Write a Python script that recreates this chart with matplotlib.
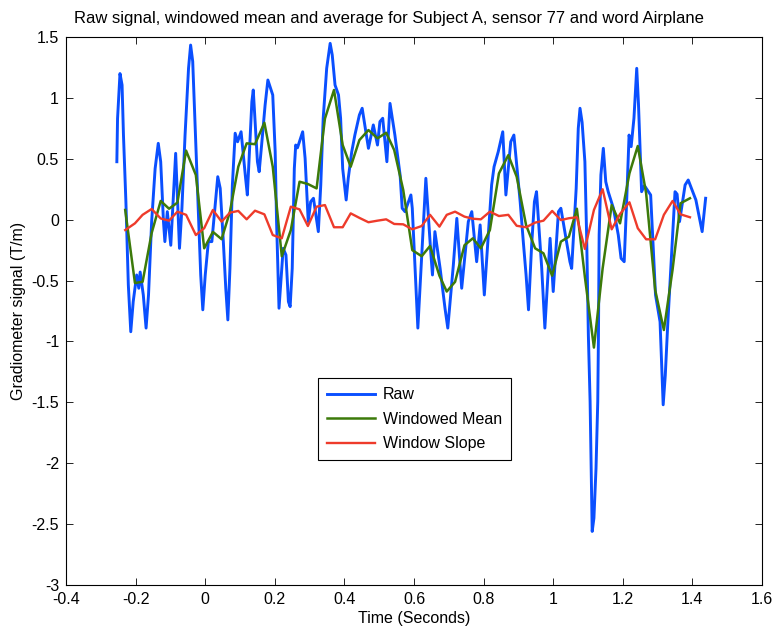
import matplotlib
matplotlib.use("Agg")
import matplotlib.pyplot as plt

plt.rcParams['font.family'] = ['Liberation Sans', 'DejaVu Sans']

raw_t = [-0.254, -0.252, -0.245, -0.239, -0.235, -0.228, -0.221, -0.214, -0.207, -0.197,
         -0.191, -0.187, -0.178, -0.170, -0.163, -0.154, -0.144, -0.135, -0.128, -0.120,
         -0.116, -0.109, -0.099, -0.085, -0.074, -0.067, -0.058, -0.048, -0.042, -0.036,
         -0.028, -0.020, -0.013, -0.007, 0.000, 0.009, 0.019, 0.026, 0.036, 0.043,
         0.052, 0.059, 0.065, 0.071, 0.078, 0.086, 0.093, 0.103, 0.116, 0.121,
         0.134, 0.138, 0.150, 0.155, 0.162, 0.172, 0.180, 0.194, 0.201, 0.205,
         0.212, 0.224, 0.232, 0.239, 0.244, 0.250, 0.256, 0.260, 0.265, 0.280,
         0.287, 0.296, 0.303, 0.311, 0.325, 0.332, 0.339, 0.349, 0.359, 0.365,
         0.373, 0.383, 0.389, 0.395, 0.405, 0.411, 0.421, 0.430, 0.443, 0.451,
         0.469, 0.483, 0.495, 0.502, 0.510, 0.522, 0.531, 0.545, 0.560, 0.566,
         0.574, 0.591, 0.595, 0.603, 0.611, 0.627, 0.634, 0.648, 0.653, 0.660,
         0.675, 0.689, 0.697, 0.713, 0.723, 0.737, 0.756, 0.766, 0.780, 0.790,
         0.802, 0.823, 0.830, 0.842, 0.855, 0.864, 0.871, 0.878, 0.887, 0.905,
         0.914, 0.922, 0.929, 0.938, 0.946, 0.952, 0.967, 0.976, 0.991, 1.000,
         1.015, 1.022, 1.048, 1.053, 1.066, 1.072, 1.077, 1.083, 1.091, 1.096,
         1.101, 1.106, 1.109, 1.112, 1.117, 1.123, 1.128, 1.130, 1.132, 1.137,
         1.144, 1.151, 1.158, 1.173, 1.187, 1.195, 1.204, 1.211, 1.218, 1.224,
         1.232, 1.240, 1.245, 1.254, 1.262, 1.280, 1.294, 1.307, 1.312, 1.316,
         1.322, 1.329, 1.342, 1.350, 1.356, 1.363, 1.379, 1.388, 1.410, 1.428,
         1.438]
raw_y = [0.476, 0.83, 1.20, 1.106, 0.695, 0.148, -0.536, -0.92, -0.673, -0.454,
         -0.563, -0.43, -0.618, -0.89, -0.618, -0.016, 0.42, 0.627, 0.476, -0.016,
         -0.18, 0.066, -0.21, 0.545, -0.235, 0.094, 0.695, 1.243, 1.434, 1.30,
         0.695, 0.094, -0.454, -0.74, -0.454, -0.18, -0.18, 0.04, 0.353, 0.258,
         -0.18, -0.563, -0.823, -0.40, 0.285, 0.71, 0.64, 0.722, 0.34, 0.203,
         0.969, 1.065, 0.476, 0.394, 0.613, 0.94, 1.147, 1.024, 0.558, -0.016,
         -0.727, -0.235, -0.29, -0.673, -0.714, -0.40, 0.42, 0.613, 0.59, 0.722,
         0.504, -0.016, 0.148, 0.176, -0.098, 0.285, 0.833, 1.243, 1.448, 1.352,
         1.106, 1.024, 0.833, 0.42, 0.162, 0.34, 0.558, 0.695, 0.86, 0.915,
         0.586, 0.778, 0.613, 0.805, 0.833, 0.476, 0.955, 0.695, 0.367, 0.094,
         0.066, 0.203, 0.094, -0.40, -0.89, -0.043, 0.34, -0.263, -0.454, -0.098,
         -0.40, -0.727, -0.89, -0.372, 0.011, -0.563, -0.016, 0.066, -0.345, -0.043,
         -0.618, 0.285, 0.435, 0.558, 0.722, 0.203, 0.42, 0.64, 0.695, 0.148,
         -0.18, -0.454, -0.74, -0.208, 0.148, 0.23, -0.40, -0.89, -0.153, -0.59,
         0.066, 0.094, -0.345, -0.40, 0.258, 0.75, 0.915, 0.80, 0.476, -0.126,
         -0.947, -1.494, -2.04, -2.56, -2.45, -2.04, -1.494, -0.947, -0.126, 0.367,
         0.586, 0.312, 0.23, 0.094, -0.126, -0.317, -0.345, 0.148, 0.695, 0.60,
         0.833, 1.243, 0.95, 0.23, 0.28, 0.203, -0.618, -0.838, -1.22, -1.52,
         -1.28, -0.865, -0.18, 0.23, 0.21, -0.016, 0.285, 0.326, 0.162, -0.098,
         0.176]

mean_t = [-0.230, -0.202, -0.180, -0.154, -0.128, -0.104, -0.080, -0.055, -0.027, -0.003,
          0.022, 0.047, 0.071, 0.095, 0.119, 0.143, 0.170, 0.194, 0.220, 0.246,
          0.271, 0.295, 0.320, 0.344, 0.370, 0.395, 0.418, 0.443, 0.469, 0.495,
          0.520, 0.543, 0.569, 0.595, 0.622, 0.646, 0.673, 0.694, 0.718, 0.745,
          0.769, 0.792, 0.818, 0.844, 0.871, 0.895, 0.922, 0.948, 0.972, 0.997,
          1.022, 1.045, 1.068, 1.091, 1.117, 1.142, 1.168, 1.192, 1.219, 1.243,
          1.267, 1.293, 1.318, 1.343, 1.366, 1.393]
mean_y = [0.08, -0.52, -0.51, -0.11, 0.154, 0.09, 0.14, 0.567, 0.367, -0.235,
          -0.10, -0.16, 0.066, 0.435, 0.627, 0.62, 0.796, 0.435, -0.30, -0.085,
          0.312, 0.293, 0.257, 0.83, 1.065, 0.613, 0.435, 0.654, 0.736, 0.668,
          0.714, 0.572, 0.244, -0.25, -0.30, -0.216, -0.46, -0.59, -0.51, -0.21,
          -0.153, -0.235, -0.085, 0.38, 0.53, 0.353, -0.044, -0.235, -0.276, -0.46,
          -0.18, -0.14, 0.09, -0.47, -1.05, -0.40, 0.12, -0.03, 0.38, 0.605,
          0.217, -0.577, -0.906, -0.41, 0.135, 0.176]

slope_y = [-0.085, -0.03, 0.04, 0.088, 0.01, -0.008, 0.066, 0.04, -0.126, -0.07,
           0.08, -0.016, 0.058, 0.072, 0.003, 0.074, 0.044, -0.126, -0.153, 0.107,
           0.085, -0.052, 0.107, 0.12, -0.062, -0.062, 0.052, 0.015, -0.021, -0.008,
           0.003, -0.035, -0.038, -0.079, -0.052, 0.04, -0.057, 0.04, 0.066, 0.025,
           0.008, 0.003, 0.066, 0.03, 0.04, -0.05, -0.062, -0.024, -0.008, 0.072,
           -0.003, 0.012, 0.02, -0.24, 0.08, 0.25, -0.079, 0.047, 0.143, -0.07,
           -0.161, -0.161, 0.04, 0.154, 0.044, 0.02]

title = "Raw signal, windowed mean and average for Subject A, sensor 77 and word Airplane"
xticks = [-0.4, -0.2, 0, 0.2, 0.4, 0.6, 0.8, 1, 1.2, 1.4, 1.6]
yticks = [-3, -2.5, -2, -1.5, -1, -0.5, 0, 0.5, 1, 1.5]

FS = 11.5
fig = plt.figure(figsize=(7.77, 6.33), dpi=100)
ax = fig.add_axes([0.085, 0.0758, 0.8957, 0.8657])

ax.plot(raw_t, raw_y, color='#0a4fff', lw=2.1, label='Raw')
ax.plot(mean_t, mean_y, color='#3c7a0a', lw=1.8, label='Windowed Mean')
ax.plot(mean_t, slope_y, color='#ee3b2b', lw=1.7, label='Window Slope')

ax.set_xlim(-0.4, 1.6)
ax.set_ylim(-3, 1.5)
ax.set_xticks(xticks)
ax.set_xticklabels([f"{v:g}" for v in xticks])
ax.set_yticks(yticks)
ax.set_yticklabels([f"{v:g}" for v in yticks])
ax.tick_params(direction='in', top=True, right=True, labelsize=FS, length=5, width=0.6)
ax.tick_params(axis='y', pad=5)
ax.tick_params(axis='x', pad=5)
for s in ax.spines.values():
    s.set_linewidth(0.8)

fig.text(0.5, 1 - 19 / 633, title, fontsize=12, ha='center', va='center')
ax.set_xlabel("Time (Seconds)", fontsize=FS, labelpad=3)
ax.set_ylabel("Gradiometer signal (T/m)", fontsize=FS, labelpad=4)

leg = ax.legend(loc='lower left', bbox_to_anchor=(0.362, 0.228), fontsize=FS,
                handlelength=3.0, handletextpad=0.5, fancybox=False, framealpha=1,
                edgecolor='black', borderpad=0.55, labelspacing=0.6, borderaxespad=0)
leg.get_frame().set_linewidth(0.8)

fig.savefig("out.png", dpi=100)
